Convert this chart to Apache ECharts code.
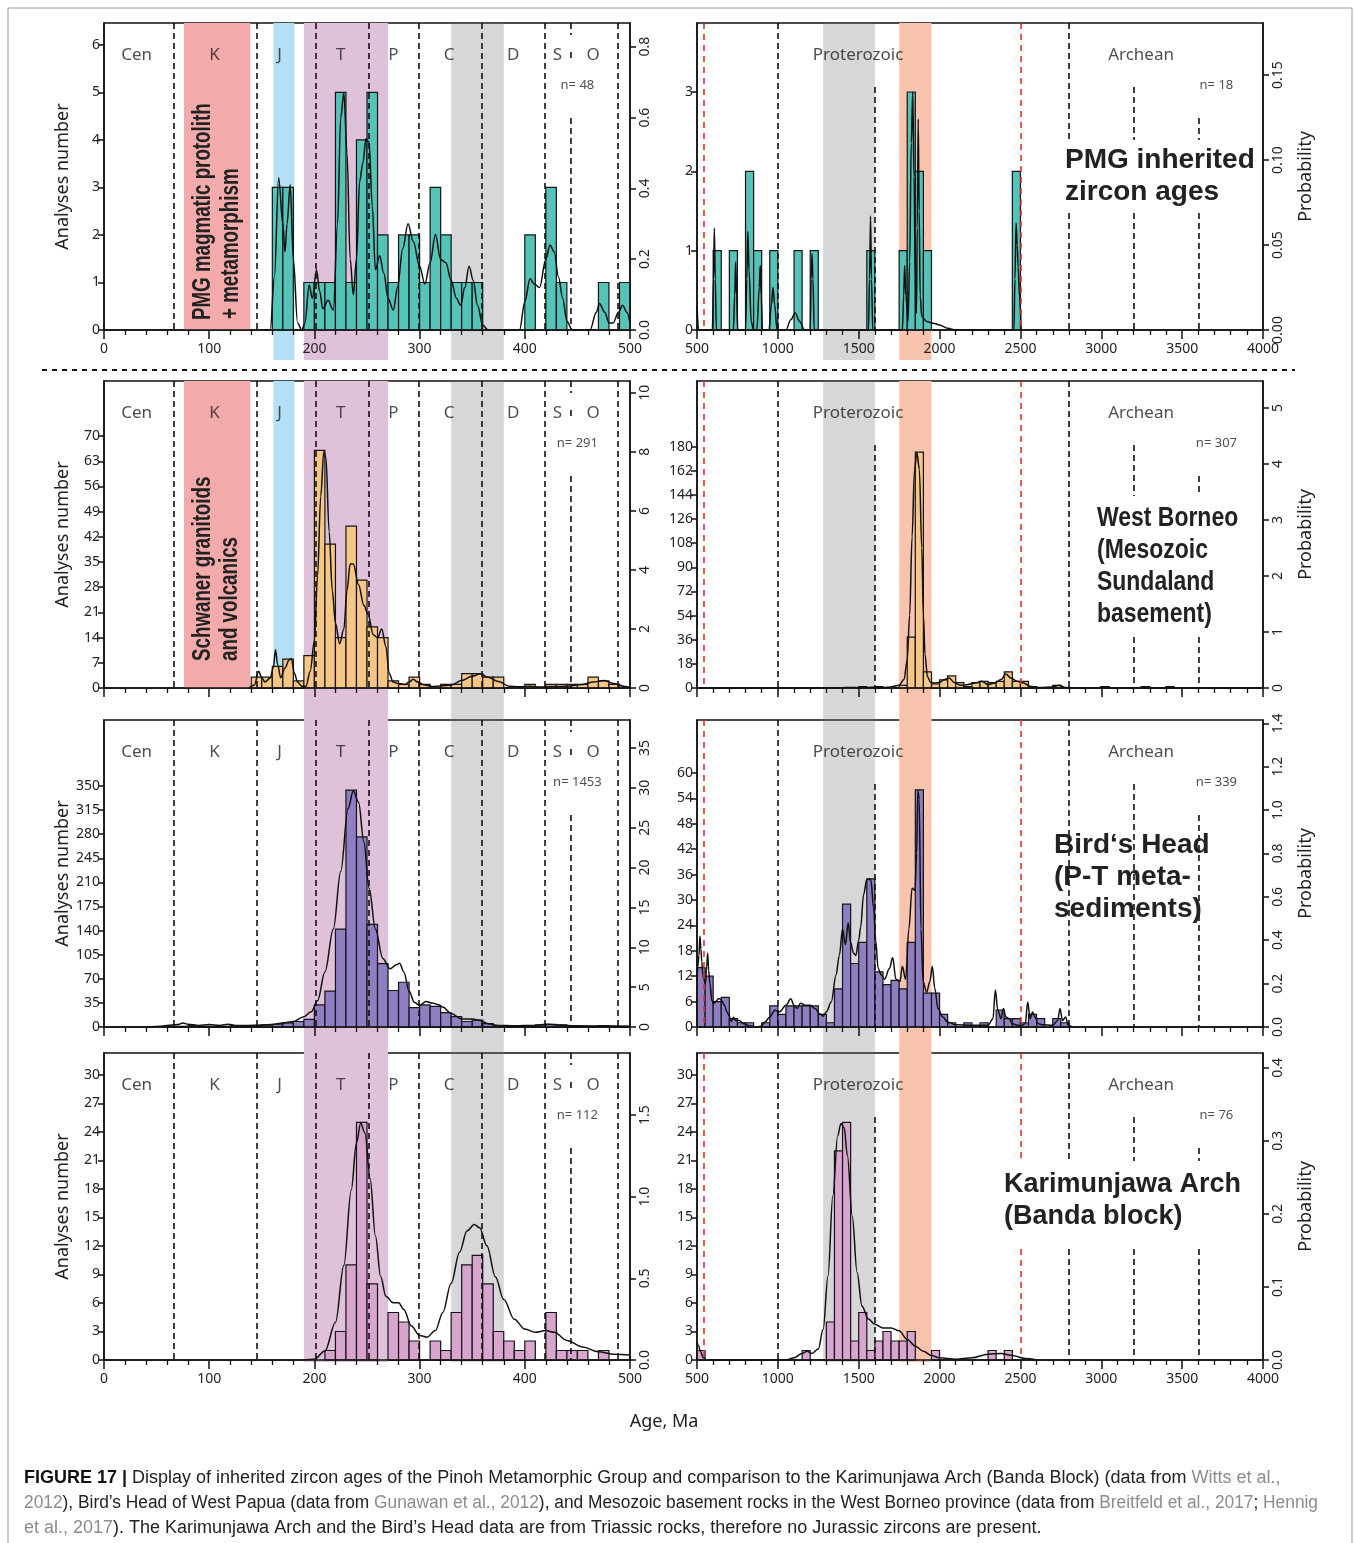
<!DOCTYPE html>
<html lang="en">
<head>
<meta charset="UTF-8">
<title>Inherited zircon ages</title>
<style>
  html, body { margin: 0; padding: 0; background: #fff; }
  #chart { width: 1354px; height: 1543px; }
</style>
</head>
<body>
<div id="chart"></div>
<script src="https://cdn.jsdelivr.net/npm/echarts@6/dist/echarts.min.js"></script>
<script>
// ---------- histogram counts (left edge of first bin + counts per bin) ----------
var pmgYoungFrom = 160;   // 10 Ma bins
var pmgYoungCounts = [3,3,0,1,1,1,5,1,4,5,2,1,2,2,1,3,2,1,1,1,0,0,0,0,2,0,3,1,0,0,0,1,0,1];
var pmgOldFrom = 600;     // 50 Ma bins
var pmgOldCounts = [1,0,1,0,2,1,0,1,0,0,1,0,1,0,0,0,0,0,0,1,0,0,0,1,3,2,1,0,0,0,0,0,0,0,0,0,0,2];

var wbYoungFrom = 140;
var wbYoungCounts = [3,3,6,8,2,9,66,40,14,45,30,17,14,2,1,3,1,0,1,1,4,4,3,3,0,0,1,0,1,1,1,1,3,2,1,0];
var wbOldFrom = 1500;
var wbOldCounts = [1,0,1,0,0,2,38,176,12,3,6,9,4,1,4,5,4,5,12,5,5,1,0,0,2,0,0,0,0,0,1,0,0,0,0,1,0,0,1];

var bhYoungFrom = 60;
var bhYoungCounts = [1,1,2,1,1,1,2,1,2,3,4,6,8,11,32,52,142,344,276,149,92,53,65,28,32,30,21,15,8,10,5,2,1,1,2,3,4,3,1,1,1,2,1,1];
var bhOldFrom = 500;
var bhOldCounts = [14,12,6,7,2,1,1,0,1,5,3,5,5,5,5,3,1,9,29,15,20,35,13,10,11,9,20,56,8,8,3,1,0,1,0,1,0,4,2,2,1,3,2,0,2,1];

var kaYoungFrom = 210;
var kaYoungCounts = [1,3,10,25,8,0,5,4,2,0,2,1,5,10,11,8,3,2,1,2,0,5,1,1,1,0,1];
var kaOldFrom = 500;
var kaOldCounts = [1,0,0,0,0,0,0,0,0,0,0,0,0,1,0,0,4,22,25,2,5,1,2,3,2,2,3,0,0,1,0,0,0,0,0,0,1,0,1];

// ---------- probability density curves [age, probability] ----------
var pmgYoungPdp = [[150,0],[158,0],[162,0.15],[166,0.43],[170,0.3],[172,0.22],[174,0.3],[177,0.41],[180,0.2],[184,0.02],[188,0],[191,0.02],[195,0.127],[198,0.09],[202,0.17],[205,0.11],[208,0.06],[213,0.084],[218,0.056],[222,0.3],[225,0.6],[228,0.67],[231,0.5],[234,0.2],[237,0.1],[240,0.2],[243,0.42],[246,0.47],[249,0.54],[252,0.53],[255,0.35],[258,0.17],[262,0.21],[266,0.16],[270,0.09],[275,0.056],[279,0.12],[284,0.23],[289,0.3],[294,0.25],[300,0.18],[305,0.13],[310,0.19],[315,0.27],[320,0.2],[325,0.19],[330,0.14],[335,0.09],[339,0.07],[343,0.12],[347,0.18],[351,0.14],[355,0.07],[360,0.014],[365,0],[395,0],[400,0.08],[405,0.145],[409,0.13],[414,0.12],[420,0.2],[424,0.24],[428,0.22],[432,0.15],[436,0.09],[440,0.025],[445,0],[462,0],[468,0.05],[471,0.075],[476,0.05],[480,0.02],[484,0.02],[489,0.05],[493,0.07],[497,0.05],[500,0.02]];
var pmgOldPdp = [[500,0.014],[510,0],[595,0],[602,0.03],[607,0.06],[613,0.03],[620,0],[725,0],[733,0.02],[739,0.04],[745,0.02],[752,0],[800,0],[808,0.03],[814,0.058],[822,0.035],[835,0.005],[850,0],[870,0],[885,0.025],[891,0.038],[897,0.02],[905,0],[945,0],[960,0.015],[970,0.025],[980,0.015],[995,0],[1050,0],[1080,0.006],[1107,0.01],[1135,0.005],[1165,0],[1200,0],[1206,0.03],[1211,0.045],[1217,0.03],[1225,0],[1560,0],[1567,0.03],[1573,0.067],[1579,0.03],[1587,0],[1770,0],[1778,0.02],[1784,0.038],[1792,0.02],[1805,0.005],[1815,0.04],[1825,0.11],[1834,0.14],[1842,0.09],[1850,0.03],[1857,0.01],[1862,0.06],[1868,0.124],[1874,0.07],[1880,0.02],[1890,0.008],[1920,0.005],[1960,0.004],[2000,0.003],[2050,0.001],[2100,0],[2460,0],[2466,0.03],[2473,0.063],[2480,0.05],[2486,0.037],[2494,0.02],[2505,0]];

var wbYoungPdp = [[138,0],[143,0.1],[147,0.57],[150,0.35],[153,0.2],[158,0.34],[161,0.7],[163,1.3],[165,0.8],[168,0.35],[172,0.68],[176,0.95],[178,1.0],[181,0.5],[184,0.2],[188,0.06],[192,0.06],[196,0.57],[200,1.6],[203,3.8],[206,6.5],[209,8.0],[211,7.8],[214,5.3],[217,3.3],[220,2.2],[224,1.5],[228,2.0],[231,3.3],[234,4.2],[237,4.2],[242,3.5],[247,2.8],[251,2.5],[256,1.8],[260,1.7],[264,2.0],[268,1.4],[271,0.5],[275,0.2],[280,0.15],[286,0.12],[290,0.2],[294,0.3],[298,0.2],[305,0.1],[312,0.05],[320,0.07],[330,0.1],[340,0.25],[350,0.4],[358,0.48],[365,0.36],[375,0.22],[385,0.06],[395,0.04],[405,0.06],[415,0.03],[425,0.05],[440,0.06],[455,0.12],[465,0.2],[475,0.25],[485,0.15],[495,0.05],[500,0.02]];
var wbOldPdp = [[500,0],[1380,0],[1420,0.01],[1460,0.01],[1500,0.005],[1560,0.01],[1600,0.015],[1650,0.01],[1700,0.02],[1750,0.05],[1780,0.15],[1800,0.5],[1815,1.3],[1830,2.7],[1845,3.9],[1860,4.2],[1875,3.9],[1890,2.5],[1900,1.3],[1910,0.6],[1925,0.2],[1945,0.1],[1970,0.09],[2000,0.1],[2030,0.15],[2060,0.18],[2090,0.1],[2130,0.05],[2170,0.06],[2220,0.09],[2260,0.12],[2300,0.06],[2340,0.09],[2380,0.15],[2410,0.25],[2440,0.18],[2480,0.12],[2520,0.09],[2560,0.03],[2620,0.01],[2700,0.02],[2740,0.05],[2780,0.01],[2850,0],[2980,0],[3000,0.02],[3030,0],[3230,0],[3250,0.02],[3280,0],[3390,0],[3410,0.02],[3440,0],[4000,0]];

var bhYoungPdp = [[40,0],[55,0.1],[60,0.2],[70,0.3],[75,0.5],[80,0.35],[90,0.2],[100,0.3],[110,0.2],[118,0.35],[125,0.2],[135,0.2],[150,0.25],[160,0.3],[170,0.5],[180,0.7],[190,1.3],[197,1.9],[203,3.3],[210,6.9],[218,12.3],[225,19.5],[232,27.4],[237,29.6],[242,28.2],[247,23.2],[252,17.4],[258,12.3],[265,8.6],[272,7.3],[278,7.8],[281,8.0],[285,6.9],[290,4.5],[295,3.1],[300,2.7],[306,3.2],[312,3.0],[318,2.8],[322,2.5],[330,1.7],[340,1.0],[350,1.0],[358,0.8],[365,0.4],[375,0.2],[390,0.15],[410,0.2],[420,0.35],[430,0.25],[450,0.15],[470,0.12],[490,0.1],[500,0.1]];
var bhOldPdp = [[500,0.21],[505,0.28],[512,0.33],[518,0.42],[524,0.36],[530,0.3],[536,0.24],[542,0.22],[552,0.2],[560,0.28],[566,0.34],[572,0.26],[580,0.2],[592,0.12],[605,0.11],[620,0.12],[632,0.13],[640,0.13],[655,0.12],[670,0.1],[685,0.07],[700,0.05],[712,0.025],[725,0.045],[738,0.03],[760,0.03],[790,0.015],[830,0.005],[870,0],[900,0.005],[920,0.023],[950,0.046],[980,0.077],[1010,0.07],[1050,0.1],[1080,0.13],[1100,0.1],[1120,0.085],[1140,0.11],[1170,0.1],[1200,0.1],[1230,0.085],[1260,0.06],[1280,0.05],[1300,0.07],[1330,0.115],[1360,0.24],[1380,0.33],[1400,0.45],[1418,0.38],[1435,0.48],[1450,0.39],[1468,0.34],[1482,0.33],[1500,0.4],[1512,0.46],[1530,0.61],[1550,0.68],[1575,0.68],[1592,0.55],[1605,0.4],[1620,0.27],[1640,0.24],[1660,0.22],[1690,0.27],[1710,0.32],[1730,0.22],[1755,0.21],[1770,0.28],[1790,0.22],[1810,0.45],[1830,0.64],[1848,0.63],[1858,0.8],[1866,1.09],[1874,1.05],[1885,0.45],[1898,0.21],[1920,0.16],[1940,0.21],[1955,0.28],[1970,0.18],[1990,0.085],[2020,0.046],[2050,0.023],[2100,0.01],[2200,0.008],[2300,0.008],[2330,0.038],[2345,0.17],[2360,0.077],[2380,0.038],[2395,0.085],[2410,0.046],[2430,0.038],[2450,0.015],[2480,0.008],[2500,0.005],[2530,0.015],[2545,0.115],[2560,0.038],[2575,0.069],[2590,0.046],[2610,0.015],[2640,0.01],[2700,0.008],[2730,0.03],[2745,0.085],[2760,0.03],[2780,0.046],[2795,0.008],[2820,0]];

var kaYoungPdp = [[190,0],[200,0.005],[210,0.055],[220,0.23],[228,0.58],[235,1.04],[240,1.33],[244,1.45],[248,1.39],[253,1.11],[258,0.76],[263,0.51],[268,0.39],[275,0.35],[280,0.35],[285,0.31],[292,0.21],[300,0.15],[307,0.14],[315,0.18],[322,0.29],[330,0.47],[338,0.66],[345,0.79],[352,0.83],[357,0.81],[364,0.7],[372,0.51],[380,0.37],[390,0.25],[400,0.19],[410,0.17],[420,0.18],[428,0.17],[440,0.12],[455,0.08],[470,0.05],[485,0.035],[500,0.03]];
var kaOldPdp = [[500,0.024],[510,0.02],[520,0.012],[540,0.003],[560,0],[1050,0],[1100,0.003],[1150,0.009],[1180,0.012],[1210,0.009],[1250,0.015],[1280,0.042],[1310,0.115],[1340,0.225],[1370,0.307],[1390,0.324],[1410,0.318],[1430,0.28],[1460,0.197],[1490,0.12],[1520,0.074],[1560,0.056],[1600,0.049],[1650,0.044],[1700,0.044],[1750,0.04],[1800,0.028],[1850,0.019],[1900,0.012],[1950,0.006],[2000,0.003],[2100,0.001],[2200,0.003],[2300,0.008],[2380,0.009],[2450,0.006],[2530,0.002],[2600,0]];

// ---------- count-axis tick labels ----------
var pmgYoungTicks = [0,1,2,3,4,5,6];
var pmgOldTicks = [0,1,2,3];
var wbYoungTicks = [0,7,14,21,28,35,42,49,56,63,70];
var wbOldTicks = [0,18,36,54,72,90,108,126,144,162,180];
var bhYoungTicks = [0,35,70,105,140,175,210,245,280,315,350];
var bhOldTicks = [0,6,12,18,24,30,36,42,48,54,60];
var kaTicks = [0,3,6,9,12,15,18,21,24,27,30];

// ---------- time scale ----------
var phanBounds = [66, 145, 201, 252, 299, 359, 419, 488];
var soBound = 444;
var precBounds = [541, 1000, 1600, 2500, 2800, 3200, 3600];
var phanNames = ['Cen', 'K', 'J', 'T', 'P', 'C', 'D', 'S', 'O'];
var phanNameAt = [31, 105, 167, 225, 275, 328, 389, 431, 465];
var precNames = ['Proterozoic', 'Archean'];
var precNameAt = [1496, 3246];
var nLabels = ['n= 48', 'n= 18', 'n= 291', 'n= 307', 'n= 1453', 'n= 339', 'n= 112', 'n= 76'];

var bandK = [76, 139], bandJ = [161, 181], bandT = [190, 270], bandC = [330, 380];
var bandMeso = [1280, 1600], bandPaleo = [1750, 1950];

// ---------- styling / layout ----------
var FONT = '"Noto Sans", "Open Sans", sans-serif';
var BOLD = '"Liberation Sans", Arial, sans-serif';
var ROW_TOP = [23, 381, 720, 1053];
var ROW_H = 307;
var SIDE = [
  { left: 104, width: 526, min: 0, max: 500, step: 100 },
  { left: 697, width: 566, min: 500, max: 4000, step: 500 }
];
var DASH_K = { color: '#111', width: 1.6, type: [6, 4], opacity: 1 };
var DASH_R = { color: '#e4312b', width: 1.6, type: [6, 5], opacity: 1 };
var GRAY_OVER = 'rgba(110,112,120,0.28)';

var panels = [
  { row: 0, side: 0, from: pmgYoungFrom, bw: 10, counts: pmgYoungCounts, pdp: pmgYoungPdp, ticks: pmgYoungTicks, color: '#55c3b8', cMax: 6.46, pMax: 0.867, pStep: 0.2, pDig: 1 },
  { row: 0, side: 1, from: pmgOldFrom, bw: 50, counts: pmgOldCounts, pdp: pmgOldPdp, ticks: pmgOldTicks, color: '#55c3b8', cMax: 3.87, pMax: 0.1806, pStep: 0.05, pDig: 2 },
  { row: 1, side: 0, from: wbYoungFrom, bw: 10, counts: wbYoungCounts, pdp: wbYoungPdp, ticks: wbYoungTicks, color: '#f6c687', cMax: 85.3, pMax: 10.4, pStep: 2, pDig: 0 },
  { row: 1, side: 1, from: wbOldFrom, bw: 50, counts: wbOldCounts, pdp: wbOldPdp, ticks: wbOldTicks, color: '#f6c687', cMax: 229, pMax: 5.48, pStep: 1, pDig: 0 },
  { row: 2, side: 0, from: bhYoungFrom, bw: 10, counts: bhYoungCounts, pdp: bhYoungPdp, ticks: bhYoungTicks, color: '#8f7ec2', cMax: 445.8, pMax: 38.5, pStep: 5, pDig: 0 },
  { row: 2, side: 1, from: bhOldFrom, bw: 50, counts: bhOldCounts, pdp: bhOldPdp, ticks: bhOldTicks, color: '#8f7ec2', cMax: 72.5, pMax: 1.415, pStep: 0.2, pDig: 1 },
  { row: 3, side: 0, from: kaYoungFrom, bw: 10, counts: kaYoungCounts, pdp: kaYoungPdp, ticks: kaTicks, color: '#d8a5cf', cMax: 32.3, pMax: 1.88, pStep: 0.5, pDig: 1 },
  { row: 3, side: 1, from: kaOldFrom, bw: 50, counts: kaOldCounts, pdp: kaOldPdp, ticks: kaTicks, color: '#d8a5cf', cMax: 32.3, pMax: 0.4205, pStep: 0.1, pDig: 1 }
];

// dashed lines on the right that are interrupted by the big panel titles
var RIGHT_GAPS = [[117, 190], [115, 256], null, [108, 196]];
var RIGHT_GAPPED = [[2800, 3200, 3600], [3200, 3600], [], [2500, 2800, 3200, 3600]];
var PREC_START = { 1600: 64, 3200: 64, 3600: 95 };

function yAt(p, px) { return p.cMax * (1 - px / ROW_H); }

function boundaryLines(p) {
  var segs = [];
  function add(x, a, b, st) {
    segs.push([{ coord: [x, yAt(p, a)], lineStyle: st }, { coord: [x, yAt(p, b)] }]);
  }
  if (p.side === 0) {
    phanBounds.forEach(function (x) { add(x, 0, ROW_H, DASH_K); });
    [[0, 12], [29, 35], [95, ROW_H]].forEach(function (r) { add(soBound, r[0], r[1], DASH_K); });
  } else {
    precBounds.forEach(function (x) {
      var st = (x === 541 || x === 2500) ? DASH_R : DASH_K;
      var start = PREC_START[x] || 0;
      var gap = RIGHT_GAPPED[p.row].indexOf(x) >= 0 ? RIGHT_GAPS[p.row] : null;
      if (gap) {
        if (start < gap[0]) add(x, start, gap[0], st);
        add(x, gap[1], ROW_H, st);
      } else {
        add(x, start, ROW_H, st);
      }
    });
  }
  return segs;
}

var grids = [], xAxes = [], yAxes = [], series = [];
var AX = { color: '#111', width: 1.5 };

panels.forEach(function (p, g) {
  var s = SIDE[p.side];
  var showX = p.row === 0 || p.row === 3;
  grids.push({ left: s.left, top: ROW_TOP[p.row], width: s.width, height: ROW_H, show: true,
    borderColor: '#111', borderWidth: 1.5, backgroundColor: 'transparent' });
  xAxes.push({
    gridIndex: g, type: 'value', min: s.min, max: s.max, interval: s.step, z: 6,
    axisLine: { lineStyle: AX },
    axisTick: { length: 9, lineStyle: AX },
    minorTick: { show: true, splitNumber: 5, length: 5, lineStyle: { color: '#111', width: 1.3 } },
    axisLabel: { show: showX, color: '#222', fontSize: 14, fontFamily: FONT, margin: 12,
      formatter: function (v) { return String(v); } },
    splitLine: { show: false }
  });
  yAxes.push({
    gridIndex: g, type: 'value', position: 'left', min: 0, max: p.cMax, z: 6,
    axisLine: { show: true, lineStyle: AX },
    axisTick: { show: true, length: 6, lineStyle: AX, customValues: p.ticks },
    axisLabel: { color: '#222', fontSize: 14, fontFamily: FONT, margin: 4, customValues: p.ticks },
    splitLine: { show: false },
    name: p.side === 0 ? 'Analyses number' : '', nameLocation: 'middle', nameRotate: 90, nameGap: 32,
    nameTextStyle: { fontSize: 18, color: '#222', fontFamily: FONT }
  });
  yAxes.push({
    gridIndex: g, type: 'value', position: 'right', min: 0, max: p.pMax, interval: p.pStep, z: 6,
    axisLine: { show: true, lineStyle: AX },
    axisTick: { show: true, length: 6, lineStyle: AX },
    axisLabel: { color: '#222', fontSize: 14, fontFamily: FONT, rotate: 90, margin: 8, showMaxLabel: false,
      formatter: (function (d) { return function (v) { return v.toFixed(d); }; })(p.pDig) },
    splitLine: { show: false },
    name: p.side === 1 ? 'Probability' : '', nameLocation: 'middle', nameRotate: 90, nameGap: 34,
    nameTextStyle: { fontSize: 18, color: '#222', fontFamily: FONT }
  });

  // histogram bars
  var bars = [];
  p.counts.forEach(function (c, i) {
    if (c > 0) bars.push([p.from + i * p.bw, p.from + (i + 1) * p.bw, c]);
  });
  series.push({
    type: 'custom', xAxisIndex: g, yAxisIndex: 2 * g, z: 2, silent: true,
    encode: { x: [0, 1], y: 2 }, data: bars,
    renderItem: (function (col) {
      return function (params, api) {
        var a = api.coord([api.value(0), 0]);
        var b = api.coord([api.value(1), api.value(2)]);
        return { type: 'rect', shape: { x: a[0], y: b[1], width: b[0] - a[0], height: a[1] - b[1] },
          style: { fill: col, stroke: '#141414', lineWidth: 1.2 } };
      };
    })(p.color)
  });

  // probability density curve
  series.push({
    type: 'line', xAxisIndex: g, yAxisIndex: 2 * g + 1, z: 4, silent: true,
    data: p.pdp, smooth: 0.35, smoothMonotone: 'x', showSymbol: false, symbol: 'none',
    lineStyle: { color: '#111', width: 1.5 }
  });

  // period labels, n label and time boundaries
  var names = p.side === 0 ? phanNames : precNames;
  var at = p.side === 0 ? phanNameAt : precNameAt;
  var labels = names.map(function (nm, i) { return { name: nm, value: [at[i], yAt(p, 32)] }; });
  labels.push({ name: nLabels[g], value: [p.side === 0 ? 450 : 3712, yAt(p, 62)], label: { fontSize: 13 } });
  series.push({
    type: 'scatter', xAxisIndex: g, yAxisIndex: 2 * g, z: 5, silent: true,
    symbolSize: 1, itemStyle: { color: 'transparent' }, data: labels,
    label: { show: true, position: 'inside', formatter: '{b}', color: '#222', fontSize: 17, fontFamily: FONT },
    markLine: { silent: true, symbol: ['none', 'none'], label: { show: false }, animation: false,
      data: boundaryLines(p) }
  });

  // panel-only bands (Cretaceous / Jurassic)
  if (p.side === 0 && p.row <= 1) {
    var pb = [[{ xAxis: bandK[0], itemStyle: { color: '#f3aaaa' } }, { xAxis: bandK[1] }]];
    if (p.row === 1) pb.push([{ xAxis: bandJ[0], itemStyle: { color: '#b4e0f6' } }, { xAxis: bandJ[1] }]);
    series.push({ type: 'line', xAxisIndex: g, yAxisIndex: 2 * g, z: 1, data: [], silent: true,
      markArea: { silent: true, data: pb } });
  }
});

// background grids: bands that run across the gaps between panels
var bgGrids = [
  { side: 0, top: 23, height: 337, under: [[bandJ, '#b4e0f6'], [bandT, '#dfc2da']], over: [bandC] },
  { side: 0, top: 381, height: 981, under: [[bandT, '#dfc2da']], over: [bandC] },
  { side: 1, top: 23, height: 337, under: [[bandPaleo, '#f8c4ae']], over: [bandMeso] },
  { side: 1, top: 381, height: 981, under: [[bandPaleo, '#f8c4ae']], over: [bandMeso] }
];
bgGrids.forEach(function (b) {
  var s = SIDE[b.side];
  var gi = grids.length;
  grids.push({ left: s.left, top: b.top, width: s.width, height: b.height, show: false });
  xAxes.push({ gridIndex: gi, type: 'value', min: s.min, max: s.max, show: false });
  var yi = yAxes.length;
  yAxes.push({ gridIndex: gi, type: 'value', min: 0, max: 1, show: false });
  series.push({ type: 'line', xAxisIndex: gi, yAxisIndex: yi, z: 1, data: [], silent: true,
    markArea: { silent: true, data: b.under.map(function (u) {
      return [{ xAxis: u[0][0], itemStyle: { color: u[1] } }, { xAxis: u[0][1] }];
    }) } });
  series.push({ type: 'line', xAxisIndex: gi, yAxisIndex: yi, z: 3, data: [], silent: true,
    markArea: { silent: true, data: b.over.map(function (o) {
      return [{ xAxis: o[0], itemStyle: { color: GRAY_OVER } }, { xAxis: o[1] }];
    }) } });
});

function txt(x, y, s, font, opt) {
  opt = opt || {};
  return {
    type: 'text', x: x, y: y, z: 20, rotation: opt.rot || 0, scaleX: opt.sx || 1, silent: true,
    style: { text: s, font: font, fill: opt.fill || '#222', textAlign: opt.align || 'left', align: opt.align || 'left',
      textVerticalAlign: 'middle', verticalAlign: 'middle', rich: opt.rich }
  };
}

var big = 'bold 28px ' + BOLD;
var rot = 'bold 25px ' + BOLD;
var capFont = '18px ' + BOLD;
var capRich = {
  b: { fontWeight: 'bold', fontSize: 18, fontFamily: BOLD, fill: '#111' },
  g: { fontSize: 18, fontFamily: BOLD, fill: '#8c8c8c' }
};

var graphics = [
  { type: 'rect', shape: { x: 8, y: 8, width: 1344, height: 1545 }, style: { fill: 'none', stroke: '#9a9a9a', lineWidth: 1 }, z: 0, silent: true },
  { type: 'line', shape: { x1: 42, y1: 370, x2: 1295, y2: 370 }, style: { stroke: '#111', lineWidth: 2, lineDash: [5, 5] }, z: 20, silent: true },
  txt(1065, 160, 'PMG inherited', big),
  txt(1065, 192, 'zircon ages', big),
  txt(1097, 518, 'West Borneo', big, { sx: 0.82 }),
  txt(1097, 550, '(Mesozoic', big, { sx: 0.82 }),
  txt(1097, 582, 'Sundaland', big, { sx: 0.82 }),
  txt(1097, 614, 'basement)', big, { sx: 0.82 }),
  txt(1054, 845, 'Bird\u2018s Head', big),
  txt(1054, 877, '(P-T meta-', big),
  txt(1054, 909, 'sediments)', big),
  txt(1004, 1185, 'Karimunjawa Arch', 'bold 27px ' + BOLD),
  txt(1004, 1217, '(Banda block)', 'bold 27px ' + BOLD),
  txt(203, 320, 'PMG magmatic protolith', rot, { rot: Math.PI / 2, sx: 0.75 }),
  txt(231, 319, '+ metamorphism', rot, { rot: Math.PI / 2, sx: 0.75 }),
  txt(203, 661, 'Schwaner granitoids', rot, { rot: Math.PI / 2, sx: 0.75 }),
  txt(230, 661, 'and volcanics', rot, { rot: Math.PI / 2, sx: 0.75 }),
  txt(664, 1422, 'Age, Ma', '18px ' + FONT, { align: 'center' }),
  txt(24, 1478, '{b|FIGURE 17 |} Display of inherited zircon ages of the Pinoh Metamorphic Group and comparison to the Karimunjawa Arch (Banda Block) (data from {g|Witts et al.,}', capFont, { rich: capRich }),
  txt(24, 1503, '{g|2012}), Bird\u2019s Head of West Papua (data from {g|Gunawan et al., 2012}), and Mesozoic basement rocks in the West Borneo province (data from {g|Breitfeld et al., 2017}; {g|Hennig}', capFont, { rich: capRich, sx: 0.963 }),
  txt(24, 1528, '{g|et al., 2017}). The Karimunjawa Arch and the Bird\u2019s Head data are from Triassic rocks, therefore no Jurassic zircons are present.', capFont, { rich: capRich })
];

var chart = echarts.init(document.getElementById('chart'));
chart.setOption({
  animation: false,
  backgroundColor: '#fff',
  grid: grids,
  xAxis: xAxes,
  yAxis: yAxes,
  series: series,
  graphic: graphics
});
</script>
</body>
</html>
